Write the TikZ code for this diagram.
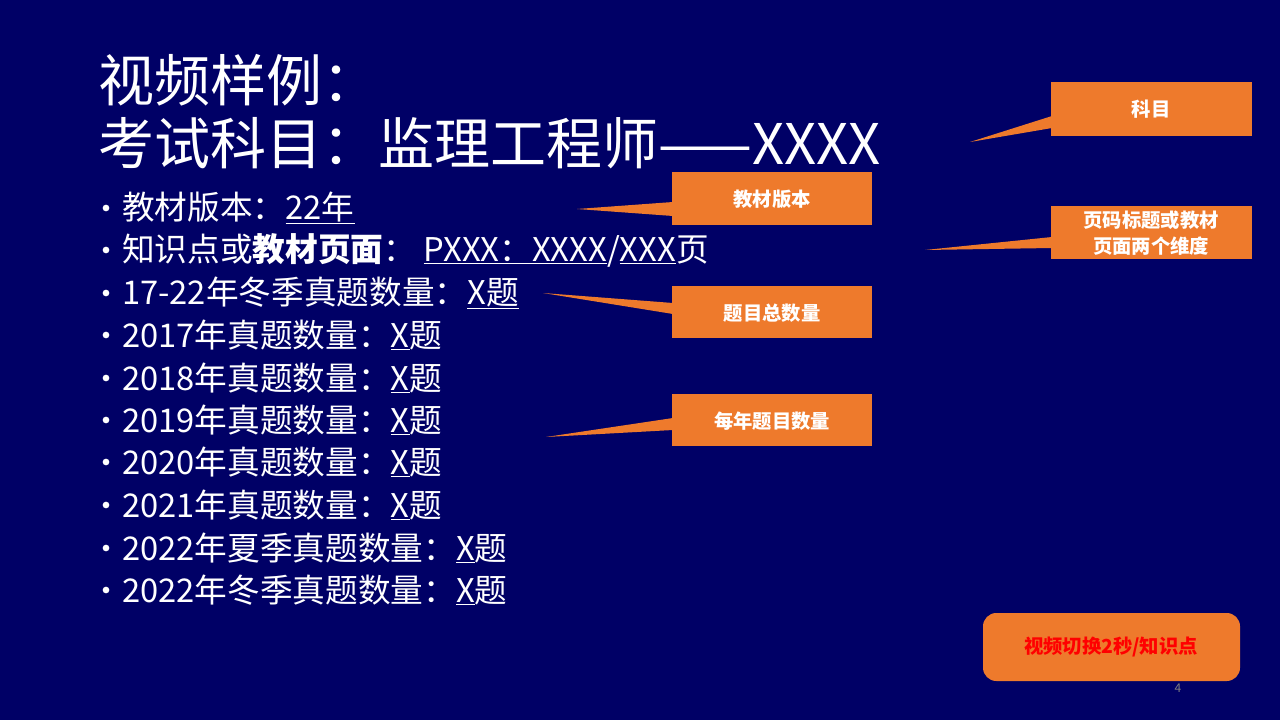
\documentclass[tikz,border=0pt]{standalone}
\usepackage{fontspec}
\setmainfont{Noto Sans CJK SC}
\definecolor{bg}{HTML}{000066}
\definecolor{org}{HTML}{EE7A2C}
\tikzset{
 callout/.style={fill=org,draw=none},
 ctext/.style={text=white,font=\fontsize{14.5}{17}\selectfont\bfseries,align=center},
 item/.style={anchor=west,text=white,font=\fontsize{24.5}{28}\selectfont,inner sep=0},
 bul/.style={circle,fill=white,inner sep=0,minimum size=5pt},
}
\begin{document}
\begin{tikzpicture}[x=0.75pt,y=-0.75pt]
\fill[bg] (0,0) rectangle (1280,720);
\useasboundingbox (0,0) rectangle (1280,720);
\node[anchor=west,text=white,font=\fontsize{42}{46}\selectfont,inner sep=0] (t1) at (98,80) {视频样例：};
\node[anchor=west,text=white,font=\fontsize{42}{46}\selectfont,inner sep=0] (t2) at (98,143) {考试科目：监理工程师——XXXX};
\foreach \y/\t [count=\i] in {208/{教材版本：\underline{22年}},
 250/{知识点或\textbf{教材页面}：\ \underline{PXXX：XXXX}/\underline{XXX}页},
 293/{17-22年冬季真题数量：\underline{X题}},
 335/{2017年真题数量：\underline{X}题},
 378/{2018年真题数量：\underline{X}题},
 420/{2019年真题数量：\underline{X}题},
 462/{2020年真题数量：\underline{X}题},
 505/{2021年真题数量：\underline{X}题},
 548/{2022年夏季真题数量：\underline{X}题},
 590/{2022年冬季真题数量：\underline{X}题}}{
 \node[bul] (b\i) at (106,\y) {};
 \node[item] (l\i) at (122,\y) {\t};
}
% callouts
\fill[callout] (1051,82) rectangle (1252,136);
\fill[callout] (1052,116) -- (970,142) -- (1052,128) -- cycle;
\node[ctext] (c1) at (1151,109) {科目};
\fill[callout] (672,172) rectangle (872,225);
\fill[callout] (673,202) -- (577,209) -- (673,216) -- cycle;
\node[ctext] (c2) at (772,199) {教材版本};
\fill[callout] (1051,206) rectangle (1252,259);
\fill[callout] (1052,237) -- (925,250) -- (1052,248) -- cycle;
\node[ctext,font=\fontsize{14.5}{19}\selectfont\bfseries] (c3) at (1151,233) {页码标题或教材\\页面两个维度};
\fill[callout] (672,286) rectangle (872,338);
\fill[callout] (673,303) -- (543,293) -- (673,314) -- cycle;
\node[ctext] (c4) at (772,313) {题目总数量};
\fill[callout] (672,394) rectangle (872,446);
\fill[callout] (673,418) -- (546,437) -- (673,430) -- cycle;
\node[ctext] (c5) at (772,421) {每年题目数量};
\fill[org,rounded corners=10pt] (983,613) rectangle (1240,681);
\node[text=red,font=\fontsize{14.5}{16}\selectfont\bfseries] (btn) at (1111,647) {视频切换2秒/知识点};
\node[text=gray,font=\fontsize{9}{10}\selectfont] (pg) at (1178,688) {4};
\end{tikzpicture}
\end{document}
